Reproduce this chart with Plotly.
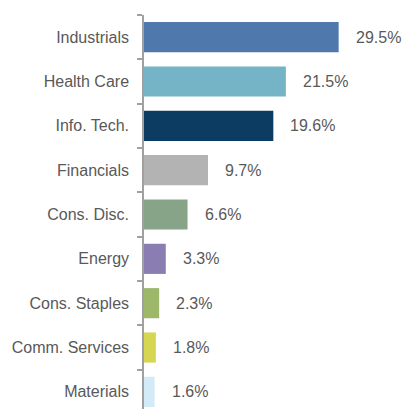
import plotly.graph_objects as go

sectors = ["Industrials", "Health Care", "Info. Tech.", "Financials", "Cons. Disc.",
           "Energy", "Cons. Staples", "Comm. Services", "Materials"]
weights = [29.5, 21.5, 19.6, 9.7, 6.6, 3.3, 2.3, 1.8, 1.6]
labels = ["29.5%", "21.5%", "19.6%", "9.7%", "6.6%", "3.3%", "2.3%", "1.8%", "1.6%"]
colors = ["#4F79AC", "#74B4C6", "#0C3C62", "#B3B3B3", "#88A488",
          "#897DB1", "#9EB86A", "#D6D653", "#D3EAF7"]

text_color = "#595959"
font_family = "Liberation Sans, Arial, sans-serif"

fig = go.Figure()
fig.add_trace(go.Bar(
    x=weights, y=sectors, orientation="h",
    marker=dict(color=colors, line=dict(width=0)),
    width=0.68, hoverinfo="skip",
))

for s, w, lab in zip(sectors, weights, labels):
    fig.add_annotation(x=w, y=s, text=lab, showarrow=False, xanchor="left",
                       xshift=15, font=dict(size=16, color=text_color, family=font_family))

fig.update_layout(
    width=402, height=409,
    margin=dict(l=144, r=0, t=15, b=0),
    paper_bgcolor="white", plot_bgcolor="white",
    showlegend=False,
    xaxis=dict(range=[0, 39.1], visible=False, fixedrange=True),
    yaxis=dict(
        type="category", categoryorder="array", categoryarray=sectors,
        range=[8.5 - 5 / 44.33, -0.5],
        showline=True, linecolor="#A0A0A0", linewidth=1.5,
        ticks="outside", ticklen=5, tickcolor="#A0A0A0", tickwidth=1.5,
        tickson="boundaries", ticklabelstandoff=10,
        showgrid=False, zeroline=False, fixedrange=True,
        tickfont=dict(size=16, color=text_color, family=font_family),
    ),
)

fig.write_html("out.html", config={"displayModeBar": False},
               post_script="document.body.style.margin='0';document.body.style.overflow='hidden';")
